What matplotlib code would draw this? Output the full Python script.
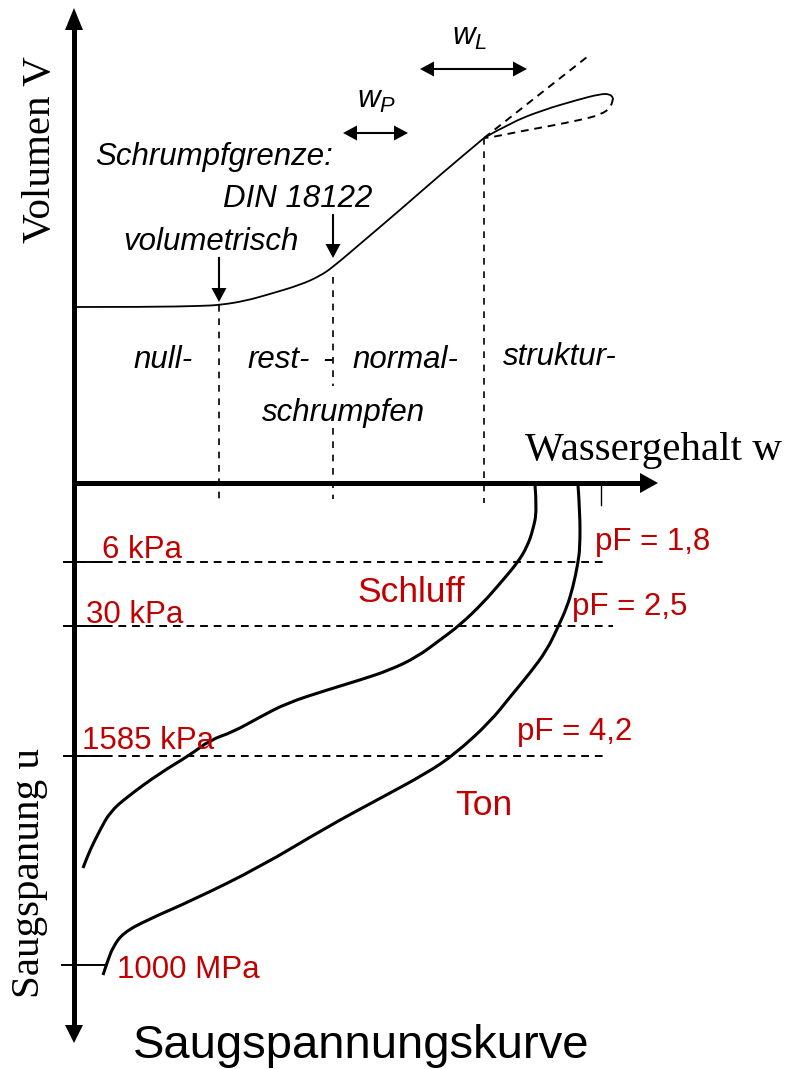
import matplotlib.pyplot as plt
from matplotlib.patches import Polygon, PathPatch
from matplotlib.path import Path

plt.rcParams['font.family'] = ['Liberation Sans', 'DejaVu Sans']
plt.rcParams['mathtext.fontset'] = 'custom'
plt.rcParams['mathtext.it'] = 'Liberation Sans:italic'
plt.rcParams['mathtext.rm'] = 'Liberation Sans'

RED = '#c00000'

# Schwindkurve V(w), Bildkoordinaten (x nach rechts, y nach unten)
vol_w = [77, 150, 200, 220, 245, 270, 300, 320, 333, 360, 400, 440, 484]
vol_v = [307, 307, 306, 305, 301, 294, 285, 276, 267, 244, 210, 175, 138]
# Schleife oberhalb der Fliessgrenze
loop_up_w = [484, 510, 543, 577, 600, 610, 613]
loop_up_v = [138, 123, 110, 100, 94, 94, 98]
loop_dn_w = [613, 612, 600, 580, 550, 517, 493, 484]
loop_dn_v = [98, 107, 115, 120, 126, 132, 137, 138]
tangent_w = [484, 587]
tangent_v = [138, 57]

# Grenzen der Schrumpfbereiche
limit_w = [219, 333, 484]
limit_top = [305, 267, 138]

# Saugspannungskurven
schluff_w = [535, 537, 533, 527, 518, 503, 483, 460, 440, 417, 390, 360, 327,
             287, 260, 233, 210, 190, 160, 127, 110, 100, 90, 83]
schluff_u = [485, 510, 530, 547, 562, 580, 603, 625, 640, 657, 670, 680, 690,
             703, 717, 732, 740, 755, 773, 797, 812, 830, 850, 868]
ton_w = [578, 580, 580, 578, 573, 567, 558, 547, 530, 510, 490, 455, 427,
         377, 327, 260, 193, 147, 123, 113, 108, 103]
ton_u = [485, 513, 547, 563, 587, 607, 627, 650, 673, 697, 722, 754, 773,
         800, 827, 867, 900, 920, 933, 947, 960, 975]

# Saugspannungsniveaus
level_u = [562, 626, 756]
level_end = [608, 613, 603]
kpa_labels = ['6 kPa', '30 kPa', '1585 kPa']
kpa_pos = [(102, 558), (86, 623), (82, 749)]
pf_labels = ['pF = 1,8', 'pF = 2,5', 'pF = 4,2']
pf_pos = [(595, 550), (572, 615), (517, 740)]
u_max = 965


def smooth(ax, xs, ys, **kw):
    # quadratische Bezier-Segmente, Stuetzpunkte als Kontrollpunkte
    pts = list(zip(xs, ys))
    verts = [pts[0]]
    codes = [Path.MOVETO]
    for i in range(1, len(pts) - 1):
        mid = ((pts[i][0] + pts[i + 1][0]) / 2, (pts[i][1] + pts[i + 1][1]) / 2)
        verts += [pts[i], mid]
        codes += [Path.CURVE3, Path.CURVE3]
    verts.append(pts[-1])
    codes.append(Path.LINETO)
    ax.add_patch(PathPatch(Path(verts, codes), fill=False, edgecolor='black',
                           capstyle='butt', joinstyle='round', **kw))


def head(ax, tip, direction, length=18, width=18):
    x, y = tip
    dx, dy = direction
    bx, by = x - dx * length, y - dy * length
    px, py = -dy * width / 2, dx * width / 2
    ax.add_patch(Polygon([(x, y), (bx + px, by + py), (bx - px, by - py)],
                         closed=True, color='black', lw=0))


def double_arrow(ax, x0, x1, y):
    ax.plot([x0 + 10, x1 - 10], [y, y], color='black', lw=1.5)
    head(ax, (x0, y), (-1, 0), 14, 15)
    head(ax, (x1, y), (1, 0), 14, 15)


fig = plt.figure(figsize=(7.93, 10.69), dpi=100)
ax = fig.add_axes([0, 0, 1, 1])
ax.set_xlim(0, 793)
ax.set_ylim(1069, 0)
ax.axis('off')

# Achsen
ax.plot([74, 74], [26, 1027], color='black', lw=3.6, solid_capstyle='butt')
ax.plot([72, 642], [483, 483], color='black', lw=3.6, solid_capstyle='butt')
head(ax, (74, 8), (0, -1), 22, 18)
head(ax, (74, 1043), (0, 1), 18, 18)
head(ax, (658, 483), (1, 0), 18, 20)
ax.plot([601, 601], [483, 505], color='black', lw=1.0)

# Schwindkurve
smooth(ax, vol_w, vol_v, lw=1.3)
smooth(ax, loop_up_w, loop_up_v, lw=1.3)
smooth(ax, loop_dn_w, loop_dn_v, lw=1.4, linestyle=(0, (4, 3)))
ax.plot(tangent_w, tangent_v, color='black', lw=1.4, dashes=(4, 3))

# gestrichelte Grenzen
ax.plot([limit_w[0]] * 2, [limit_top[0], 503], color='black', lw=1.2, dashes=(4, 4))
ax.plot([limit_w[1]] * 2, [limit_top[1] + 10, 386], color='black', lw=1.2, dashes=(4, 4))
ax.plot([limit_w[1]] * 2, [428, 499], color='black', lw=1.2, dashes=(4, 4))
ax.plot([limit_w[2]] * 2, [limit_top[2], 503], color='black', lw=1.2, dashes=(4, 4))

# Pfeile
ax.plot([219, 219], [258, 290], color='black', lw=1.5)
head(ax, (219, 302), (0, 1), 14, 15)
ax.plot([333, 333], [215, 246], color='black', lw=1.5)
head(ax, (333, 258), (0, 1), 14, 15)
double_arrow(ax, 343, 408, 133)
double_arrow(ax, 420, 527, 69)

# Beschriftung oben
itk = dict(style='italic', fontsize=22.5, color='black', va='baseline', ha='left')
ax.text(95, 165, 'Schrumpfgrenze:', **itk)
ax.text(223, 207, 'DIN 18122', **itk)
ax.text(123, 250, 'volumetrisch', **itk)
ax.text(357, 108, r'$w_P$', fontsize=22.5, va='baseline', ha='left')
ax.text(452, 45, r'$w_L$', fontsize=22.5, va='baseline', ha='left')
ax.text(133, 368, 'null-', **itk)
ax.text(247, 368, 'rest-', **itk)
ax.text(322, 368, '-', **itk)
ax.text(352, 368, 'normal-', **itk)
ax.text(503, 365, 'struktur-', **itk)
ax.text(262, 421, 'schrumpfen', **itk)

serif = ['Liberation Serif', 'DejaVu Serif']
ax.text(525, 460, 'Wassergehalt w', family=serif, fontsize=29.5, va='baseline', ha='left')
ax.text(41, 150, 'Volumen V', family=serif, fontsize=29.5, rotation=90,
        va='center', ha='center')
ax.text(30, 873, 'Saugspanung u', family=serif, fontsize=29.5, rotation=90,
        va='center', ha='center')

# Saugspannungsniveaus
for u, xe, lab, pos, pf, ppos in zip(level_u, level_end, kpa_labels, kpa_pos,
                                     pf_labels, pf_pos):
    ax.plot([64, xe], [u, u], color='black', lw=1.4, dashes=(4, 3))
    ax.plot([64, 104], [u, u], color='black', lw=1.4)
    ax.text(pos[0], pos[1], lab, color=RED, fontsize=22.5, va='baseline', ha='left')
    ax.text(ppos[0], ppos[1], pf, color=RED, fontsize=22.5, va='baseline', ha='left')
ax.plot([62, 105], [u_max, u_max], color='black', lw=1.4)
ax.text(117, 978, '1000 MPa', color=RED, fontsize=22.5, va='baseline', ha='left')

# Kurven
smooth(ax, schluff_w, schluff_u, lw=2.2)
smooth(ax, ton_w, ton_u, lw=2.2)
ax.text(357, 602, 'Schluff', color=RED, fontsize=25.5, va='baseline', ha='left')
ax.text(455, 815, 'Ton', color=RED, fontsize=25.5, va='baseline', ha='left')

ax.text(133, 1058, 'Saugspannungskurve', fontsize=34, va='baseline', ha='left')

fig.savefig('out.png', dpi=100)
